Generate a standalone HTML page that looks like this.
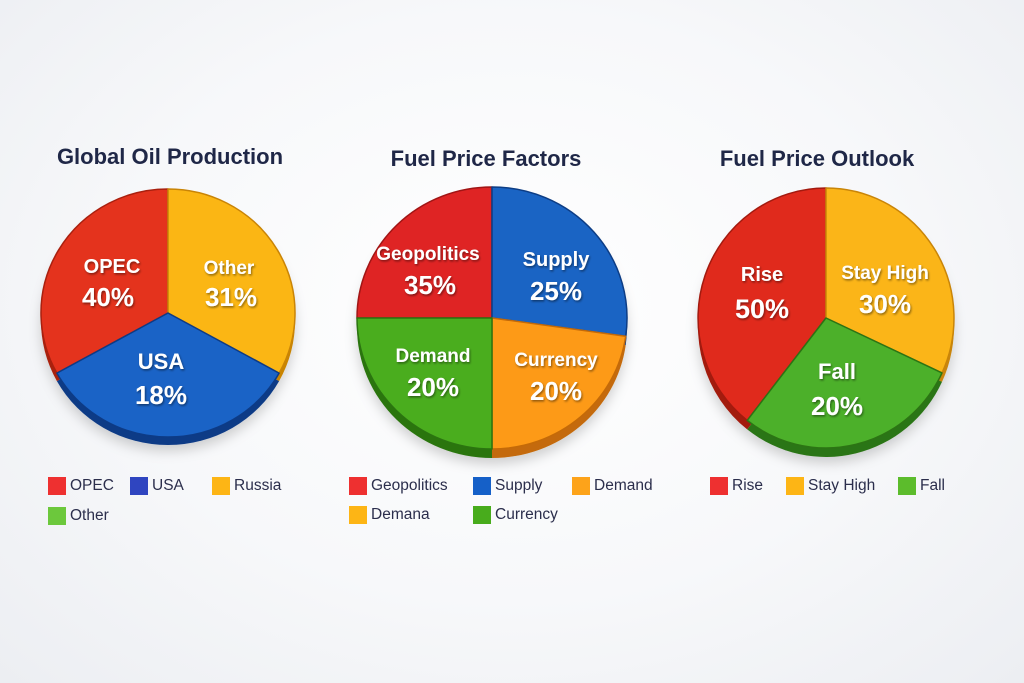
<!DOCTYPE html>
<html><head><meta charset="utf-8">
<style>
html,body{margin:0;padding:0}
body{width:1024px;height:683px;overflow:hidden;background:radial-gradient(ellipse at 50% 45%,#ffffff 0%,#f7f8fa 55%,#eceef2 100%);font-family:"Liberation Sans","DejaVu Sans",sans-serif;position:relative}
.t{position:absolute;font-weight:bold;font-size:22px;color:#1f2747;text-align:center;width:340px}
.lg{position:absolute;font-size:15.5px;color:#2b2e4c;height:18px;line-height:18px;padding-left:22px}
.lg i{position:absolute;left:0;top:0;width:18px;height:18px}
svg{position:absolute;left:0;top:0}
svg text{font-family:"Liberation Sans","DejaVu Sans",sans-serif;font-weight:bold;fill:#fff;text-anchor:middle}
</style></head><body>
<div class="t" style="left:0;top:144px">Global Oil Production</div>
<div class="t" style="left:316px;top:146px">Fuel Price Factors</div>
<div class="t" style="left:647px;top:146px">Fuel Price Outlook</div>
<svg id="s" width="1024" height="683">
<defs>
<filter id="sh" x="-20%" y="-20%" width="140%" height="150%"><feDropShadow dx="0" dy="6" stdDeviation="6" flood-color="#000" flood-opacity="0.18"/></filter>
<filter id="ts"><feDropShadow dx="1" dy="1.5" stdDeviation="1" flood-color="#000" flood-opacity="0.45"/></filter>
</defs>
<g id="g"></g>
<g filter="url(#ts)">
<text x="112" y="273" font-size="20">OPEC</text>
<text x="108" y="306" font-size="26">40%</text>
<text x="229" y="274" font-size="19">Other</text>
<text x="231" y="306" font-size="26">31%</text>
<text x="161" y="369" font-size="22">USA</text>
<text x="161" y="404" font-size="26">18%</text>
<text x="428" y="260" font-size="19">Geopolitics</text>
<text x="430" y="294" font-size="26">35%</text>
<text x="556" y="266" font-size="20">Supply</text>
<text x="556" y="300" font-size="26">25%</text>
<text x="433" y="362" font-size="19">Demand</text>
<text x="433" y="396" font-size="26">20%</text>
<text x="556" y="366" font-size="19">Currency</text>
<text x="556" y="400" font-size="26">20%</text>
<text x="762" y="281" font-size="20">Rise</text>
<text x="762" y="318" font-size="27">50%</text>
<text x="885" y="279" font-size="19">Stay High</text>
<text x="885" y="313" font-size="26">30%</text>
<text x="837" y="379" font-size="22">Fall</text>
<text x="837" y="415" font-size="26">20%</text>
</g>
</svg>
<div class="lg" style="left:48px;top:477px"><i style="background:#ee3030"></i>OPEC</div>
<div class="lg" style="left:130px;top:477px"><i style="background:#2f45c0"></i>USA</div>
<div class="lg" style="left:212px;top:477px"><i style="background:#fdb515"></i>Russia</div>
<div class="lg" style="left:48px;top:507px"><i style="background:#6cc83c"></i>Other</div>
<div class="lg" style="left:349px;top:477px"><i style="background:#ee3030"></i>Geopolitics</div>
<div class="lg" style="left:473px;top:477px"><i style="background:#1560c8"></i>Supply</div>
<div class="lg" style="left:572px;top:477px"><i style="background:#fda31a"></i>Demand</div>
<div class="lg" style="left:349px;top:506px"><i style="background:#fdb515"></i>Demana</div>
<div class="lg" style="left:473px;top:506px"><i style="background:#48ac1c"></i>Currency</div>
<div class="lg" style="left:710px;top:477px"><i style="background:#ee3030"></i>Rise</div>
<div class="lg" style="left:786px;top:477px"><i style="background:#fdb515"></i>Stay High</div>
<div class="lg" style="left:898px;top:477px"><i style="background:#5cbc2c"></i>Fall</div>
<script>
var pies=[
 {cx:168,cy:313,rx:127,ry:124,d:8,sl:[[151,270,'#e4331d','#a9200f'],[270,389,'#fbb614','#c98406'],[29,151,'#1a63c6','#0d3b86']]},
 {cx:492,cy:318,rx:135,ry:131,d:9,sl:[[180,270,'#df2424','#a11515'],[270,368,'#1a64c4','#0d3d85'],[8,90,'#fd9a17','#c46a08'],[90,180,'#4aad1e','#2b7410']]},
 {cx:826,cy:318,rx:128,ry:130,d:9,sl:[[128,270,'#e02a1c','#a31a0f'],[270,385,'#fbb518','#c98508'],[25,128,'#4cb02a','#2c7414']]}
];
var g=document.getElementById('g'),out='';
function pt(cx,cy,rx,ry,a){a=a*Math.PI/180;return (cx+rx*Math.cos(a)).toFixed(1)+','+(cy+ry*Math.sin(a)).toFixed(1);}
pies.forEach(function(p){
 var s='<g filter="url(#sh)">';
 p.sl.forEach(function(q){
  var lg=(q[1]-q[0])>180?1:0,cy=p.cy+p.d;
  s+='<path d="M'+p.cx+','+cy+' L'+pt(p.cx,cy,p.rx,p.ry,q[0])+' A'+p.rx+','+p.ry+' 0 '+lg+' 1 '+pt(p.cx,cy,p.rx,p.ry,q[1])+' Z" fill="'+q[3]+'"/>';
 });
 s+='</g>';
 p.sl.forEach(function(q){
  var lg=(q[1]-q[0])>180?1:0;
  s+='<path d="M'+p.cx+','+p.cy+' L'+pt(p.cx,p.cy,p.rx,p.ry,q[0])+' A'+p.rx+','+p.ry+' 0 '+lg+' 1 '+pt(p.cx,p.cy,p.rx,p.ry,q[1])+' Z" fill="'+q[2]+'" stroke="'+q[3]+'" stroke-width="1.5" stroke-linejoin="round"/>';
 });
 out+=s;
});
g.innerHTML=out;
</script>
</body></html>
